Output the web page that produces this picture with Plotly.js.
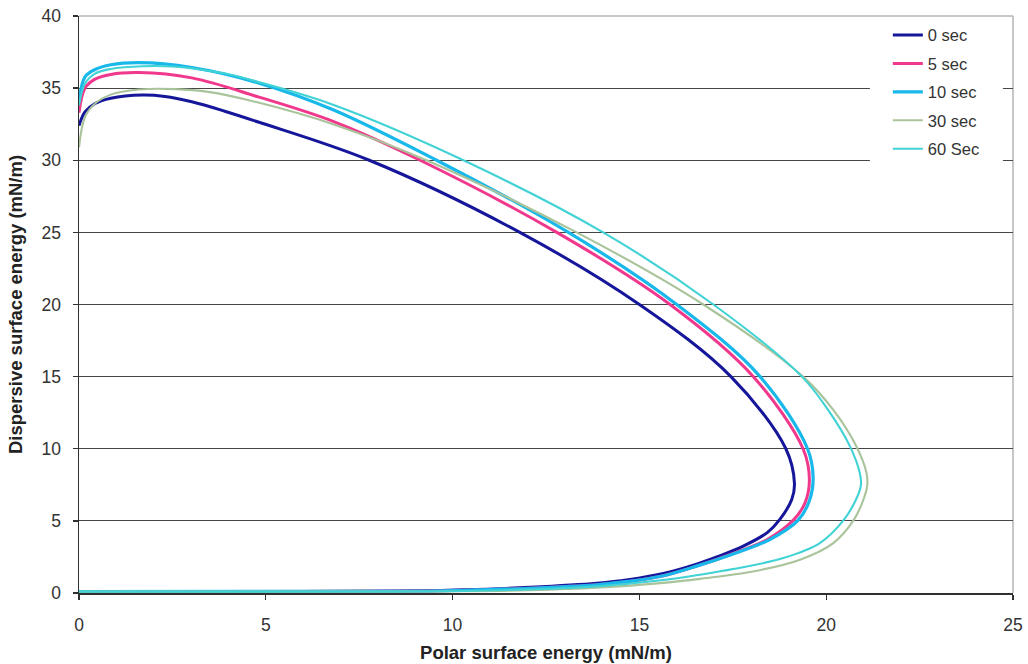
<!DOCTYPE html>
<html>
<head>
<meta charset="utf-8">
<script src="https://cdn.plot.ly/plotly-3.0.1.min.js"></script>
<style>html,body{margin:0;padding:0;background:#fff;}#chart{width:1028px;height:664px;}</style>
</head>
<body>
<div id="chart"></div>
<script>
// Series names
const seriesNames = ["0 sec", "5 sec", "10 sec", "30 sec", "60 Sec"];

// 0 sec (x = polar, y = dispersive), read along the envelope
const x0s = [0, 0.16, 0.43, 0.85, 1.7, 2.3, 3.02, 3.9, 4.8, 7.77, 11.8, 15.0, 17.45, 18.92, 19.15, 19.08, 18.76, 18.43, 17.78, 17.07, 16.53, 15.64, 14.7, 13.86, 12.07, 10.29, 8.6, 6.0, 0];
const y0s = [32.4, 33.35, 33.93, 34.3, 34.52, 34.42, 34.05, 33.4, 32.65, 30.0, 25.0, 20.0, 15.0, 10.0, 7.6, 6.5, 5.1, 4.2, 3.25, 2.5, 2.0, 1.35, 0.92, 0.68, 0.4, 0.22, 0.13, 0.1, 0.1];

// 5 sec
const x5s = [0, 0.16, 0.43, 0.85, 1.6, 3.02, 4.8, 6.8, 9.13, 12.79, 15.82, 18.05, 19.38, 19.55, 19.43, 19.12, 18.41, 17.42, 16.55, 15.64, 14.7, 13.86, 12.07, 10.29, 8.6, 0];
const y5s = [33.3, 35.0, 35.62, 35.95, 36.08, 35.71, 34.39, 32.7, 30.0, 25.0, 20.0, 15.0, 10.0, 7.85, 6.23, 5.05, 3.69, 2.65, 1.88, 1.2, 0.8, 0.57, 0.33, 0.19, 0.12, 0.1];

// 10 sec
const x10s = [0, 0.16, 0.43, 0.85, 1.6, 3.02, 4.8, 6.8, 9.57, 13.1, 16.0, 18.23, 19.5, 19.65, 19.55, 19.25, 18.48, 17.45, 16.55, 15.64, 14.7, 13.86, 12.07, 10.29, 8.6, 0];
const y10s = [34.0, 35.78, 36.29, 36.62, 36.77, 36.43, 35.36, 33.5, 30.0, 25.0, 20.0, 15.0, 10.0, 8.0, 6.4, 5.05, 3.69, 2.65, 1.88, 1.2, 0.8, 0.57, 0.33, 0.19, 0.12, 0.1];

// 30 sec
const x30s = [0, 0.16, 0.43, 0.85, 1.6, 2.57, 3.46, 4.8, 6.8, 9.3, 13.32, 16.71, 19.38, 20.19, 20.81, 21.08, 21.1, 21.0, 20.73, 20.19, 19.3, 17.96, 16.62, 15.64, 13.86, 12.07, 10.29, 8.6, 0];
const y30s = [30.9, 33.0, 33.93, 34.55, 34.9, 34.93, 34.74, 34.0, 32.5, 30.0, 25.0, 20.0, 15.0, 12.69, 10.15, 8.31, 7.5, 6.5, 5.03, 3.46, 2.31, 1.45, 0.98, 0.7, 0.36, 0.19, 0.12, 0.1, 0.1];

// 60 Sec
const x60s = [0, 0.16, 0.43, 0.85, 1.7, 2.5, 3.91, 4.8, 6.8, 10.29, 14.03, 16.98, 19.35, 20.05, 20.64, 20.9, 20.93, 20.82, 20.46, 19.83, 18.85, 17.51, 16.62, 15.64, 13.86, 12.07, 10.29, 8.6, 0];
const y60s = [33.8, 35.32, 36.01, 36.33, 36.52, 36.5, 36.01, 35.43, 33.85, 30.0, 25.0, 20.0, 15.0, 12.69, 10.15, 8.31, 7.5, 6.6, 5.03, 3.46, 2.42, 1.66, 1.27, 0.9, 0.46, 0.25, 0.14, 0.1, 0.1];

const xTickVals = [0, 5, 10, 15, 20, 25];
const yTickVals = [0, 5, 10, 15, 20, 25, 30, 35, 40];

const xs = [x0s, x5s, x10s, x30s, x60s];
const ys = [y0s, y5s, y10s, y30s, y60s];
const colors = ["#16169a", "#f0388c", "#18b8ea", "#a9c39b", "#40d2d4"];
const widths = [3.0, 3.0, 3.2, 2.1, 2.1];

const FONT = "Liberation Sans, Arial, Helvetica, sans-serif";

const traces = seriesNames.map((n, i) => ({
  type: "scatter",
  mode: "lines",
  name: n,
  x: xs[i],
  y: ys[i],
  line: {color: colors[i], width: widths[i], shape: "spline", smoothing: 1.0},
  legendgroup: "g" + i,
  hoverinfo: "skip"
}));

const layout = {
  width: 1028,
  height: 664,
  margin: {l: 79, r: 15, t: 16, b: 71, pad: 0},
  paper_bgcolor: "#ffffff",
  plot_bgcolor: "#ffffff",
  font: {family: FONT, color: "#333333", size: 17.5},
  showlegend: true,
  legend: {
    x: 0.866, xanchor: "left",
    y: 0.997, yanchor: "top",
    bgcolor: "rgba(0,0,0,0)",
    borderwidth: 0,
    font: {family: FONT, size: 16.5, color: "#333333"},
    tracegroupgap: 4,
    itemwidth: 30
  },
  xaxis: {
    range: [0, 25],
    tickvals: xTickVals,
    ticktext: xTickVals.map(String),
    ticks: "outside",
    ticklen: 5,
    tickwidth: 1.3,
    tickcolor: "#303030",
    showline: true,
    linecolor: "#303030",
    linewidth: 1.5,
    showgrid: false,
    zeroline: false,
    ticklabelstandoff: 10,
    tickfont: {family: FONT, size: 17.5, color: "#333333"},
    title: {text: "Polar surface energy (mN/m)", font: {family: FONT, size: 18.5, color: "#222222", weight: "bold"}, standoff: 12},
    automargin: false,
    fixedrange: true
  },
  yaxis: {
    range: [0, 40],
    tickvals: yTickVals,
    ticktext: yTickVals.map(String),
    ticks: "outside",
    ticklen: 5,
    tickwidth: 1.3,
    tickcolor: "#303030",
    showline: true,
    linecolor: "#303030",
    linewidth: 1.5,
    showgrid: true,
    gridcolor: "#454545",
    gridwidth: 1.2,
    zeroline: false,
    ticklabelstandoff: 8,
    tickfont: {family: FONT, size: 17.5, color: "#333333"},
    title: {text: "Dispersive surface energy (mN/m)", font: {family: FONT, size: 18.5, color: "#222222", weight: "bold"}, standoff: 14},
    automargin: false,
    fixedrange: true
  },
  shapes: [
    {type: "rect", xref: "x", yref: "y", x0: 21.17, x1: 24.73, y0: 28.97, y1: 39.35, fillcolor: "#ffffff", line: {width: 0}, layer: "between"},
    {type: "line", xref: "paper", yref: "paper", x0: 0, x1: 1, y0: 1, y1: 1, line: {color: "#b4b4b4", width: 1.5}, layer: "between"},
    {type: "line", xref: "paper", yref: "paper", x0: 1, x1: 1, y0: 0, y1: 1, line: {color: "#b4b4b4", width: 1.5}, layer: "between"}
  ]
};

Plotly.newPlot("chart", traces, layout, {staticPlot: true, displayModeBar: false});
</script>
</body>
</html>
